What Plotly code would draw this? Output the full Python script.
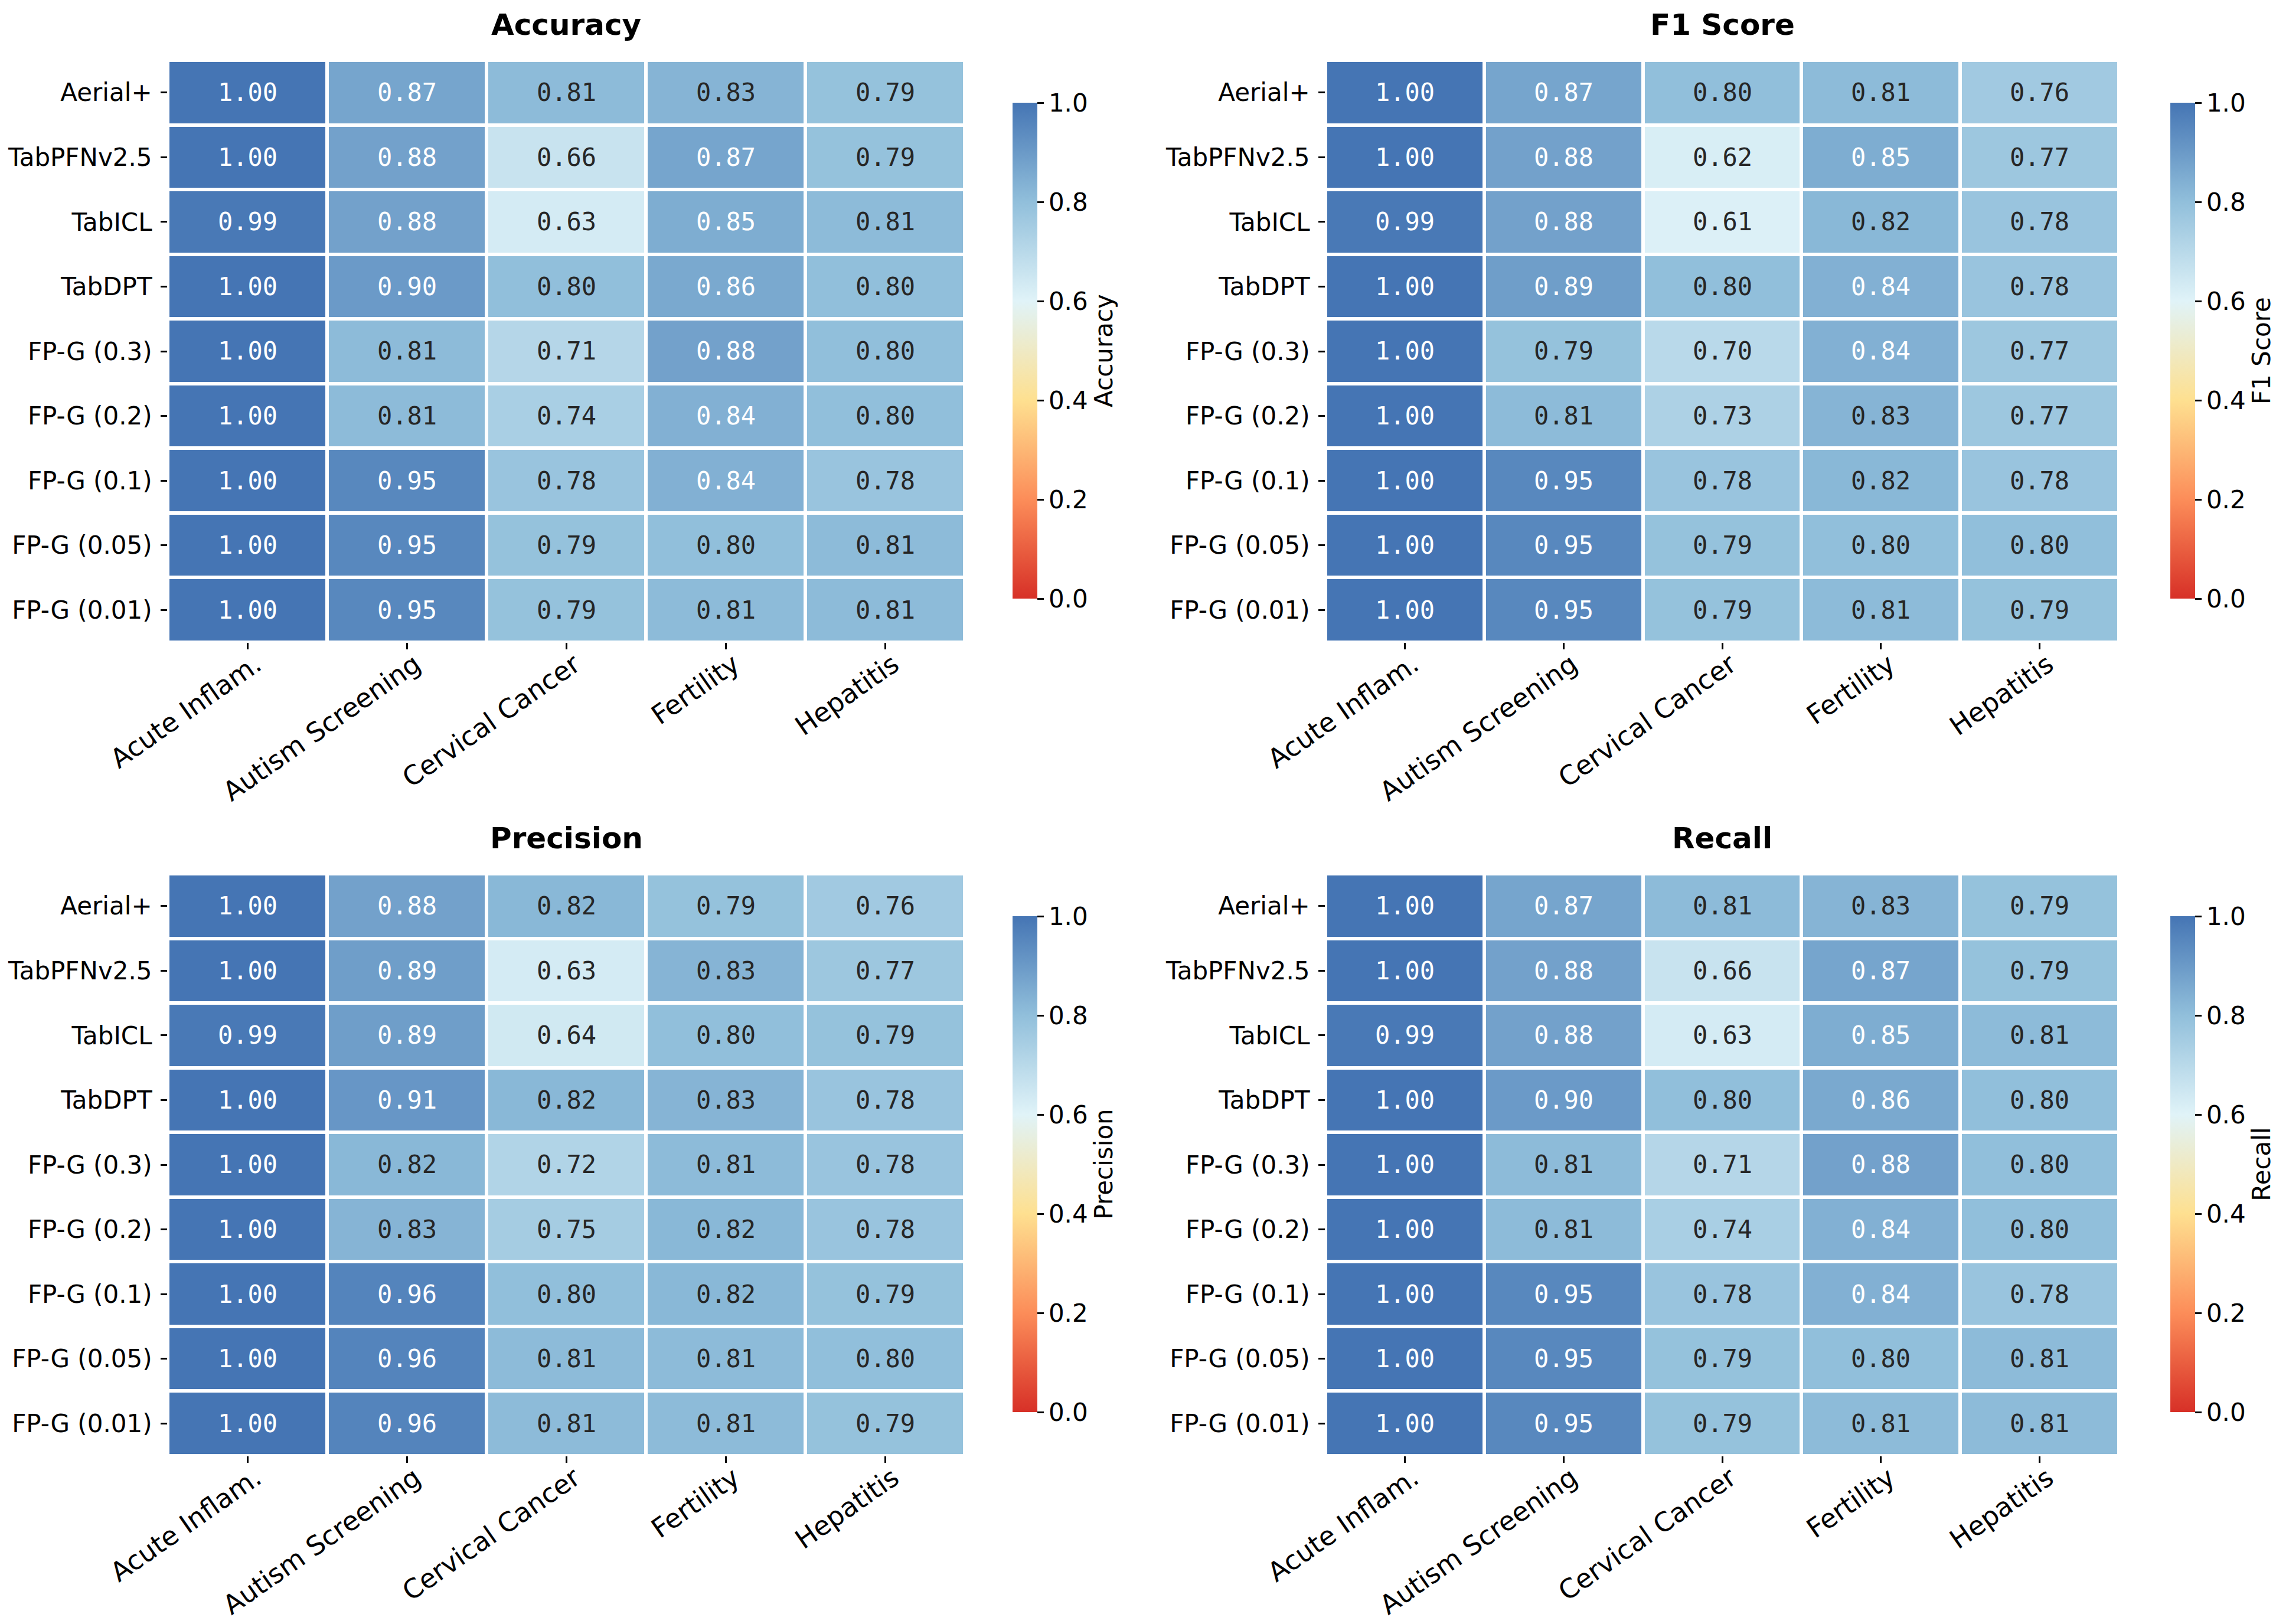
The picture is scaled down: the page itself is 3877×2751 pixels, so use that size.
import plotly.graph_objects as go

# ---------------- data ----------------
models = ["Aerial+", "TabPFNv2.5", "TabICL", "TabDPT", "FP-G (0.3)", "FP-G (0.2)",
          "FP-G (0.1)", "FP-G (0.05)", "FP-G (0.01)"]
datasets = ["Acute Inflam.", "Autism Screening", "Cervical Cancer", "Fertility", "Hepatitis"]

accuracy = [
    [1.00, 0.87, 0.81, 0.83, 0.79],
    [1.00, 0.88, 0.66, 0.87, 0.79],
    [0.99, 0.88, 0.63, 0.85, 0.81],
    [1.00, 0.90, 0.80, 0.86, 0.80],
    [1.00, 0.81, 0.71, 0.88, 0.80],
    [1.00, 0.81, 0.74, 0.84, 0.80],
    [1.00, 0.95, 0.78, 0.84, 0.78],
    [1.00, 0.95, 0.79, 0.80, 0.81],
    [1.00, 0.95, 0.79, 0.81, 0.81],
]
f1_score = [
    [1.00, 0.87, 0.80, 0.81, 0.76],
    [1.00, 0.88, 0.62, 0.85, 0.77],
    [0.99, 0.88, 0.61, 0.82, 0.78],
    [1.00, 0.89, 0.80, 0.84, 0.78],
    [1.00, 0.79, 0.70, 0.84, 0.77],
    [1.00, 0.81, 0.73, 0.83, 0.77],
    [1.00, 0.95, 0.78, 0.82, 0.78],
    [1.00, 0.95, 0.79, 0.80, 0.80],
    [1.00, 0.95, 0.79, 0.81, 0.79],
]
precision = [
    [1.00, 0.88, 0.82, 0.79, 0.76],
    [1.00, 0.89, 0.63, 0.83, 0.77],
    [0.99, 0.89, 0.64, 0.80, 0.79],
    [1.00, 0.91, 0.82, 0.83, 0.78],
    [1.00, 0.82, 0.72, 0.81, 0.78],
    [1.00, 0.83, 0.75, 0.82, 0.78],
    [1.00, 0.96, 0.80, 0.82, 0.79],
    [1.00, 0.96, 0.81, 0.81, 0.80],
    [1.00, 0.96, 0.81, 0.81, 0.79],
]
recall = [
    [1.00, 0.87, 0.81, 0.83, 0.79],
    [1.00, 0.88, 0.66, 0.87, 0.79],
    [0.99, 0.88, 0.63, 0.85, 0.81],
    [1.00, 0.90, 0.80, 0.86, 0.80],
    [1.00, 0.81, 0.71, 0.88, 0.80],
    [1.00, 0.81, 0.74, 0.84, 0.80],
    [1.00, 0.95, 0.78, 0.84, 0.78],
    [1.00, 0.95, 0.79, 0.80, 0.81],
    [1.00, 0.95, 0.79, 0.81, 0.81],
]
metric_names = ["Accuracy", "F1 Score", "Precision", "Recall"]
metric_values = [accuracy, f1_score, precision, recall]
colorbar_ticks = [0.0, 0.2, 0.4, 0.6, 0.8, 1.0]

# ---------------- style ----------------
W, H = 3877, 2751
cmap_stops = [(0.0, "#d73027"), (0.2, "#fc8d59"), (0.4, "#fee090"),
              (0.6, "#e0f3f8"), (0.8, "#91bfdb"), (1.0, "#4575b4")]
colorscale = [[p, c] for p, c in cmap_stops]

# pixel layout: heatmap x0, x1, y0, y1, colorbar x0, colorbar y0, y1
layouts = [
    (284, 1634, 102, 1088, 1715, 174, 1014),
    (2245, 3589, 102, 1088, 3676, 174, 1014),
    (284, 1634, 1480, 2466, 1715, 1552, 2392),
    (2245, 3589, 1480, 2466, 3676, 1552, 2392),
]
FONT = "DejaVu Sans"
MONO = "DejaVu Sans Mono"
FS = 42
FSX = 45


def hex2rgb(h):
    h = h.lstrip("#")
    return [int(h[i:i + 2], 16) for i in (0, 2, 4)]


def cmap(v):
    for (p0, c0), (p1, c1) in zip(cmap_stops[:-1], cmap_stops[1:]):
        if p0 <= v <= p1:
            t = (v - p0) / (p1 - p0)
            a, b = hex2rgb(c0), hex2rgb(c1)
            return [a[i] + (b[i] - a[i]) * t for i in range(3)]
    return hex2rgb(cmap_stops[-1][1])


def text_color(v):
    rgb = [c / 255 for c in cmap(v)]
    lin = [c / 12.92 if c <= 0.03928 else ((c + 0.055) / 1.055) ** 2.4 for c in rgb]
    lum = 0.2126 * lin[0] + 0.7152 * lin[1] + 0.0722 * lin[2]
    return "#262626" if lum > 0.408 else "white"


fig = go.Figure()
annotations = []

for k, (name, vals, lay) in enumerate(zip(metric_names, metric_values, layouts)):
    hx0, hx1, hy0, hy1, cbx0, cby0, cby1 = lay
    xa = "x" if k == 0 else f"x{k + 1}"
    ya = "y" if k == 0 else f"y{k + 1}"
    fig.add_trace(go.Heatmap(
        z=vals, x=datasets, y=models, xaxis=xa, yaxis=ya,
        colorscale=colorscale, zmin=0, zmax=1,
        xgap=6, ygap=6, hoverongaps=False,
        colorbar=dict(
            x=cbx0 / W, xanchor="left", xpad=0, ypad=0,
            y=1 - (cby0 + cby1) / 2 / H, yanchor="middle",
            len=cby1 - cby0, lenmode="pixels", thickness=42,
            outlinewidth=0, ticks="outside", ticklen=11, tickwidth=3,
            tickcolor="black", tickvals=colorbar_ticks, tickformat=".1f",
            tickfont=dict(family=FONT, size=FS, color="black"),
            title=dict(text=name, side="right",
                       font=dict(family=FONT, size=FS, color="black")),
        ),
    ))
    axis_suffix = "" if k == 0 else str(k + 1)
    fig.update_layout(**{
        f"xaxis{axis_suffix}": dict(
            domain=[hx0 / W, hx1 / W], anchor=ya, automargin=False,
            showgrid=False, zeroline=False, showline=False,
            ticks="outside", ticklen=11, tickwidth=3, tickcolor="black",
            tickangle=-35, ticklabelstandoff=-18, ticklabelshift=14,
            tickfont=dict(family=FONT, size=FSX, color="black"),
        ),
        f"yaxis{axis_suffix}": dict(
            domain=[1 - hy1 / H, 1 - hy0 / H], anchor=xa, automargin=False,
            autorange="reversed", showgrid=False, zeroline=False, showline=False,
            ticks="outside", ticklen=11, tickwidth=3, tickcolor="black",
            ticklabelstandoff=6,
            tickfont=dict(family=FONT, size=FS, color="black"),
        ),
    })
    # title
    annotations.append(dict(
        text=f"<b>{name}</b>", xref="paper", yref="paper",
        x=(hx0 + hx1) / 2 / W, y=1 - (hy0 - 60) / H,
        xanchor="center", yanchor="middle", showarrow=False,
        font=dict(family=FONT, size=50, color="black"),
    ))
    # cell labels
    for i, m in enumerate(models):
        for j, d in enumerate(datasets):
            v = vals[i][j]
            annotations.append(dict(
                text=f"{v:.2f}", x=d, y=m, xref=xa, yref=ya,
                showarrow=False,
                font=dict(family=MONO, size=FS, color=text_color(v)),
            ))

fig.update_layout(
    width=W, height=H, margin=dict(l=0, r=0, t=0, b=0, autoexpand=False),
    paper_bgcolor="white", plot_bgcolor="white",
    annotations=annotations, showlegend=False,
)

fig.write_html("out.html", config={"displayModeBar": False},
               post_script="document.body.style.margin='0px';"
                           "document.body.style.padding='0px';")
